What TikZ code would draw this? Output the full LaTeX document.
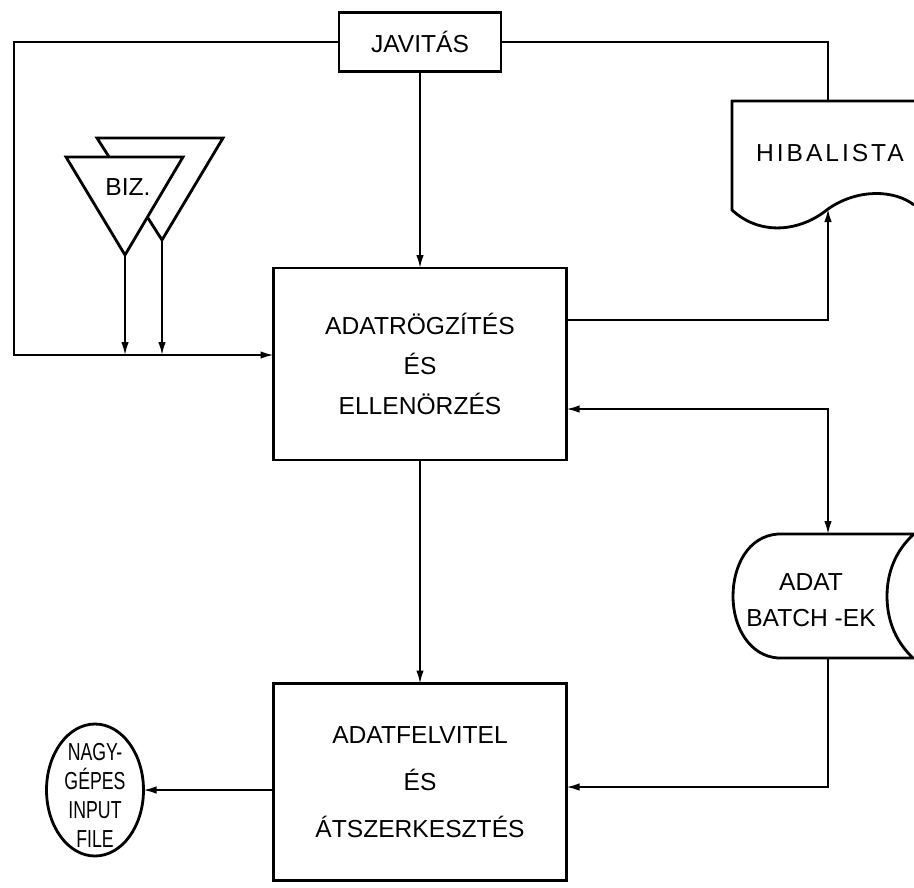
\documentclass[tikz,border=0pt]{standalone}
\usepackage{fontspec}
\setmainfont{Liberation Sans}
\newfontfamily\narrowsf[FakeStretch=0.72]{Liberation Sans}
\newfontfamily\widesf[LetterSpace=12]{Liberation Sans}
\usetikzlibrary{positioning,arrows.meta,shapes.geometric,calc}
\tikzset{
  >={Latex[length=2.6mm,width=1.5mm]},
  procbox/.style={draw,line width=1.6pt,font=\fontsize{14}{22}\selectfont,
    align=center,inner sep=3pt,outer sep=0pt},
  flow/.style={->,line width=1pt},
  flowboth/.style={<->,line width=1pt},
  wire/.style={line width=1pt},
  outline/.style={draw,line width=1.6pt,fill=white},
  lbl/.style={font=\fontsize{14}{20}\selectfont,align=center,inner sep=1pt},
}

\begin{document}
\begin{tikzpicture}[x=0.2mm,y=-0.2mm,
   bigbox/.style={procbox,minimum width=58.6mm}]
  \useasboundingbox (0,0) rectangle (914,887);
  \node[procbox,minimum width=32.4mm,minimum height=11.8mm] (jav) at (420,42) {JAVITÁS};
  \node[bigbox,minimum height=38.4mm,font=\fontsize{14}{22.7}\selectfont] (rog) at (420,364)
    {ADATRÖGZÍTÉS\\ÉS\\ELLENÖRZÉS};
  \node[bigbox,minimum height=39.4mm,font=\fontsize{14}{26.7}\selectfont] (fel) at (420,782)
    {ADATFELVITEL\\ÉS\\ÁTSZERKESZTÉS};
  % error list (document symbol, cut by the right edge)
  \draw[outline] (914,101) -- (732,101) -- (732,210)
    .. controls (760,236) and (800,232) .. (828,209)
    .. controls (858,188) and (895,190) .. (914,205);
  \node[lbl,font=\widesf\fontsize{14}{20}\selectfont] (hib) at (830,153) {HIBALISTA};
  \coordinate (hibtop) at (828,101);
  \coordinate (hibin) at (828,209);
  % data batches (stored data symbol)
  \draw[outline] (914,534) -- (778,534)
    .. controls (748,536) and (733,566) .. (733,596)
    .. controls (733,628) and (750,656) .. (778,658) -- (913,658)
    .. controls (894,640) and (887,618) .. (887,596)
    .. controls (887,572) and (896,550) .. (914,534);
  \node[lbl,font=\fontsize{14}{20.4}\selectfont] (bat) at (811,600) {ADAT\\BATCH -EK};
  \coordinate (batin) at (828,534);
  \coordinate (batout) at (828,658);
  % output file
  \node[draw,ellipse,line width=1.6pt,minimum width=19.4mm,minimum height=26.4mm,
    inner sep=0pt,outer sep=0pt] (ngy) at (95,790) {};
  \node[font=\narrowsf\fontsize{14}{16.5}\selectfont,align=center,inner sep=0pt]
    (ngytxt) at ([yshift=-1mm]ngy.center) {NAGY-\\GÉPES\\INPUT\\FILE};
  % voucher stack
  \draw[outline] (97,138) -- (223,138) -- (162,240) -- cycle;
  \draw[outline] (66,157) -- (183,157) -- (125,255) -- cycle;
  \node[lbl] (biz) at (128,187) {BIZ.};
  \coordinate (bizA) at (125,255);
  \coordinate (bizB) at (162,240);
  \coordinate (lft) at (14,355);
  % connectors
  \draw[flow] (jav) -- (rog);
  \draw[flow] (jav.west) -| (lft) -- (lft -| rog.west);
  \draw[wire] (jav.east) -| (hibtop);
  \draw[flow] (bizA) -- (bizA |- lft);
  \draw[flow] (bizB) -- (bizB |- lft);
  \draw[flow] (rog.east |- 0,320) -| (hibin);
  \draw[flowboth] (rog.east |- 0,409) -| (batin);
  \draw[flow] (batout) |- (fel.east |- 0,787);
  \draw[flow] (rog) -- (fel);
  \draw[flow] (fel.west |- ngy) -- (ngy.east);
\end{tikzpicture}
\end{document}
